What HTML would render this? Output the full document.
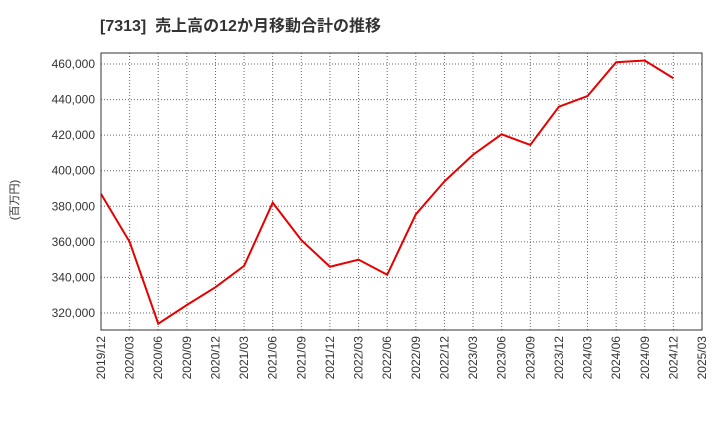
<!DOCTYPE html>
<html><head><meta charset="utf-8"><style>
body{margin:0;background:#fff;}
svg{display:block;font-family:"Liberation Sans","Noto Sans CJK JP",sans-serif;}
</style></head><body>
<svg id="chart" width="720" height="440" viewBox="0 0 720 440">
<text x="100" y="31" font-size="16" font-weight="bold" fill="#333" xml:space="preserve">[7313]  売上高の12か月移動合計の推移</text>
<text x="18" y="200" font-size="11" fill="#333" transform="rotate(-90 18 200)" text-anchor="middle">(百万円)</text>
<g id="grid"></g><g id="yt"></g><g id="xt"></g><g id="series"></g>
<rect x="101" y="53" width="601" height="277" fill="none" stroke="#333"/>
</svg>
<script>
const xLabels=["2019/12","2020/03","2020/06","2020/09","2020/12","2021/03","2021/06","2021/09","2021/12","2022/03","2022/06","2022/09","2022/12","2023/03","2023/06","2023/09","2023/12","2024/03","2024/06","2024/09","2024/12","2025/03"];
const values=[387000,360000,314000,324500,334500,346500,382000,361000,346000,350000,341500,375500,394000,409000,420500,414500,436000,442000,461000,462000,452000];
const yTicks=[320000,340000,360000,380000,400000,420000,440000,460000];
const L=101,R=702,T=53,B=330,yMin=310440,yMax=466200;
const sx=i=>L+(R-L)*i/(xLabels.length-1);
const sy=v=>B-(v-yMin)/(yMax-yMin)*(B-T);
const ns="http://www.w3.org/2000/svg";
function mk(t,a,p){const e=document.createElementNS(ns,t);for(const k in a)e.setAttribute(k,a[k]);p.appendChild(e);return e;}
const g=document.getElementById('grid'),yt=document.getElementById('yt'),xt=document.getElementById('xt'),s=document.getElementById('series');
yTicks.forEach(v=>{const y=sy(v);
const l=mk('line',{x1:L,x2:R,y1:y,y2:y,stroke:'#666','stroke-dasharray':'1,2'},g);


const t=mk('text',{x:L-6,y:y+4,'font-size':12,'text-anchor':'end',fill:'#333'},yt);t.textContent=v.toLocaleString('en-US');

});
xLabels.forEach((lab,i)=>{const x=sx(i);
const l=mk('line',{x1:x,x2:x,y1:T,y2:B,stroke:'#666','stroke-dasharray':'1,2'},g);


const t=mk('text',{x:x+4,y:B+6,'font-size':12,'text-anchor':'end',fill:'#333',transform:`rotate(-90 ${x+4} ${B+6})`},xt);t.textContent=lab;

});
const p=mk('polyline',{points:values.map((v,i)=>sx(i)+','+sy(v)).join(' '),fill:'none',stroke:'#e60000','stroke-width':2},s);


</script>
</body></html>
